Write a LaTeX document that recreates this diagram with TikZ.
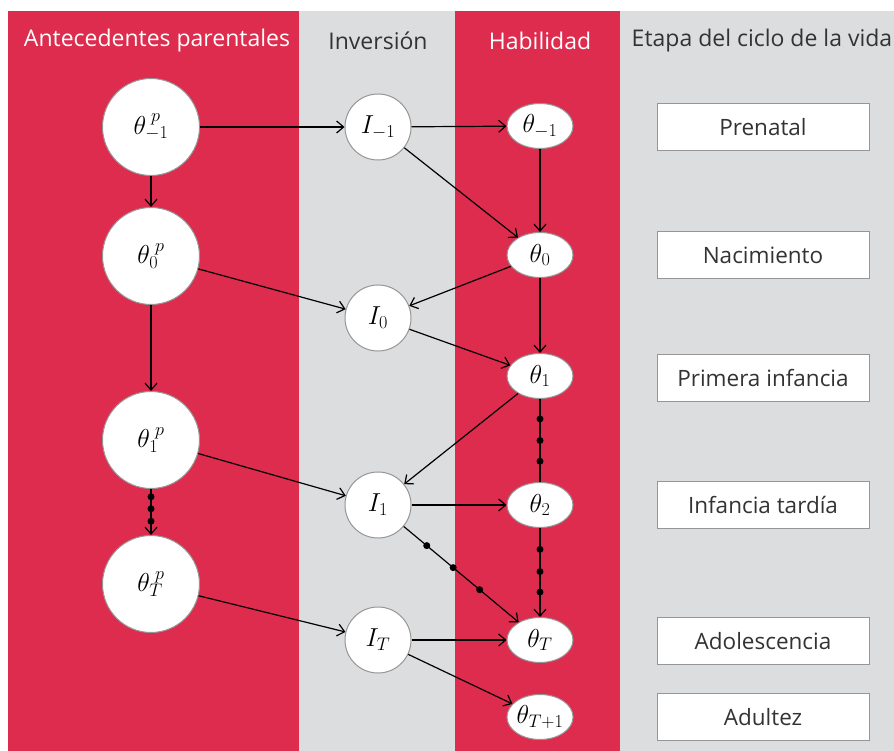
\documentclass[tikz,border=0pt]{standalone}
\usepackage{fix-cm}
\usepackage{fontspec}
\setmainfont{Open Sans}
\usetikzlibrary{shapes.geometric}
\usetikzlibrary{positioning}
\usetikzlibrary{arrows.meta}
\definecolor{bandred}{RGB}{221,44,78}
\definecolor{bandgray}{RGB}{220,221,223}
\definecolor{rimgray}{RGB}{150,150,150}
\definecolor{headgray}{RGB}{51,51,51}
\tikzset{
    parnode/.style = {circle, line width=1pt, draw=rimgray, fill=white, inner sep=0pt, minimum size=97pt, font=\fontsize{26}{30}\selectfont},
    invnode/.style = {circle, line width=1pt, draw=rimgray, fill=white, inner sep=0pt, minimum size=66pt, font=\fontsize{26}{30}\selectfont},
    habnode/.style = {ellipse, line width=1pt, draw=rimgray, fill=white, inner sep=0pt, minimum width=66pt, minimum height=45pt, font=\fontsize{26}{30}\selectfont},
    stagebox/.style = {rectangle, line width=1pt, draw=rimgray, fill=white, minimum width=212pt, minimum height=47pt, text=headgray, font=\fontsize{22.5}{26}\selectfont},
    headw/.style = {text=white, font=\fontsize{23}{27}\selectfont},
    headg/.style = {text=headgray, font=\fontsize{23}{27}\selectfont},
    dotn/.style = {circle, fill=black, inner sep=0pt, minimum size=7pt},
    edgen/.style = {-{Straight Barb[length=7pt,width=12pt]}, line width=1.2pt, black},
    linen/.style = {line width=1.2pt, black}, % no tip
}

\begin{document}
\begin{tikzpicture}[x=1pt,y=-1pt]
\useasboundingbox (0,0) rectangle (894,751);
\fill[bandred] (8,11) rectangle (299,751);
\fill[bandgray] (299,11) rectangle (455,751);
\fill[bandred] (455,11) rectangle (620,751);
\fill[bandgray] (620,11) rectangle (894,751);
%
\node[headw] at (157, 41) (hpar) {Antecedentes parentales};
\node[headg] at (378, 41) (hinv) {Inversión};
\node[headw] at (540, 41) (hhab) {Habilidad};
\node[headg] at (762, 41) (hsta) {Etapa del ciclo de la vida};
%
\node[parnode] at (151, 127) (pm1) {$\theta^{\;p}_{-1}$};
\node[parnode] at (151, 256) (p0) {$\theta^{\;p}_{0}$};
\node[parnode] at (151, 440) (p1) {$\theta^{\;p}_{1}$};
\node[parnode] at (151, 584) (pT) {$\theta^{\;p}_{T}$};
%
\node[invnode] at (378, 127) (im1) {$I_{-1}$};
\node[invnode] at (378, 318) (i0) {$I_{0}$};
\node[invnode] at (378, 505) (i1) {$I_{1}$};
\node[invnode] at (378, 640) (iT) {$I_{T}$};
%
\node[habnode] at (540, 126) (hm1) {$\theta_{-1}$};
\node[habnode] at (540, 255) (h0) {$\theta_{0}$};
\node[habnode] at (540, 376) (h1) {$\theta_{1}$};
\node[habnode] at (540, 505) (h2) {$\theta_{2}$};
\node[habnode] at (540, 640) (hT) {$\theta_{T}$};
\node[habnode] at (540, 717) (hT1) {$\theta_{T+1}$};
%
\node[stagebox] at (763, 127) (s1) {Prenatal};
\node[stagebox] at (763, 255) (s2) {Nacimiento};
\node[stagebox] at (763, 378) (s3) {Primera infancia};
\node[stagebox] at (763, 505) (s4) {Infancia tardía};
\node[stagebox] at (763, 641) (s5) {Adolescencia};
\node[stagebox] at (763, 717) (s6) {Adultez};
%
\draw[edgen] (pm1) edge (im1);
\draw[edgen] (pm1) edge (p0);
\draw[edgen] (p0) edge (p1);
\draw[edgen] (p0) edge (i0);
\draw[edgen] (p1) edge (i1);
\draw[edgen] (pT) edge (iT);
\draw[edgen] (p1) -- node[pos=0.17,dotn] {} node[pos=0.43,dotn] {} node[pos=0.7,dotn] {} (pT);
%
\draw[edgen] (im1) edge (hm1);
\draw[edgen] (im1) edge (h0);
\draw[edgen] (hm1) edge (h0);
\draw[edgen] (h0) edge (i0);
\draw[edgen] (h0) edge (h1);
\draw[edgen] (i0) edge (h1);
\draw[edgen] (h1) edge (i1);
\draw[edgen] (i1) edge (h2);
\draw[edgen] (iT) edge (hT);
\draw[edgen] (iT) edge (hT1);
\draw[linen] (h1) -- node[pos=0.24,dotn] {} node[pos=0.5,dotn] {} node[pos=0.75,dotn] {} (h2);
\draw[edgen] (h2) -- node[pos=0.24,dotn] {} node[pos=0.49,dotn] {} node[pos=0.72,dotn] {} (hT);
\draw[edgen] (i1) -- node[pos=0.2,dotn] {} node[pos=0.43,dotn] {} node[pos=0.66,dotn] {} (hT);

\end{tikzpicture}
\end{document}
